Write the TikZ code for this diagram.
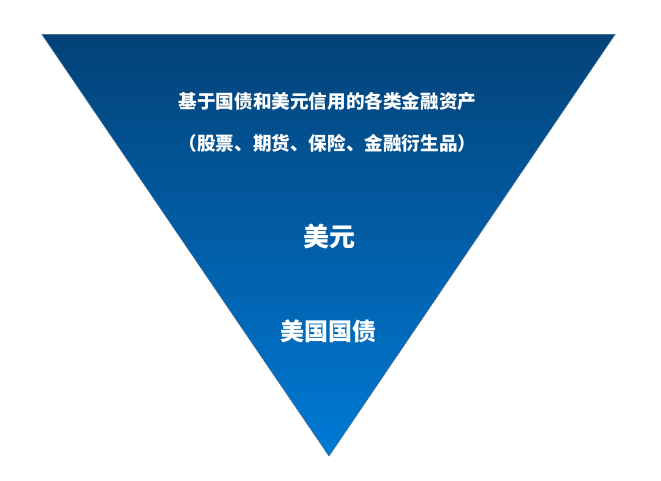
\documentclass[tikz,border=0pt]{standalone}
\usepackage{fontspec}
\usepackage{tikz}
\newfontfamily\cjk{Noto Sans CJK SC}
\definecolor{ttop}   {RGB}{3,66,120}
\definecolor{tbot}   {RGB}{0,122,214}
\definecolor{tedge}  {RGB}{70,110,150}
\tikzset{
    pyramid/.style={top color=ttop, bottom color=tbot, draw=tedge, line width=0.6pt},
    label/.style={text=white, font=\cjk\bfseries, inner sep=0pt}
  }

\begin{document}
\begin{tikzpicture}[x=1pt,y=-1pt]
 \useasboundingbox (0,0) rectangle (661,481);
 %Inverted triangle
     \shade[pyramid] (42,34.5) coordinate (tl) -- (615,34.5) coordinate (tr) -- (329,456) coordinate (bt) -- cycle;
 %Upper text
     \node[label, font=\cjk\bfseries\fontsize{18.6}{20}\selectfont] (assets) at (327.5,101) {基于国债和美元信用的各类金融资产};
     \node[label, font=\cjk\bfseries\fontsize{18.6}{20}\selectfont] (kinds) at (327.5,143.5) {（股票、期货、保险、金融衍生品）};
 %Middle text
     \node[label, font=\cjk\bfseries\fontsize{26}{28}\selectfont] (usd) at (329,237) {美元};
 %Bottom text
     \node[label, font=\cjk\bfseries\fontsize{24}{26}\selectfont] (bonds) at (328,331.5) {美国国债};
\end{tikzpicture}
\end{document}
